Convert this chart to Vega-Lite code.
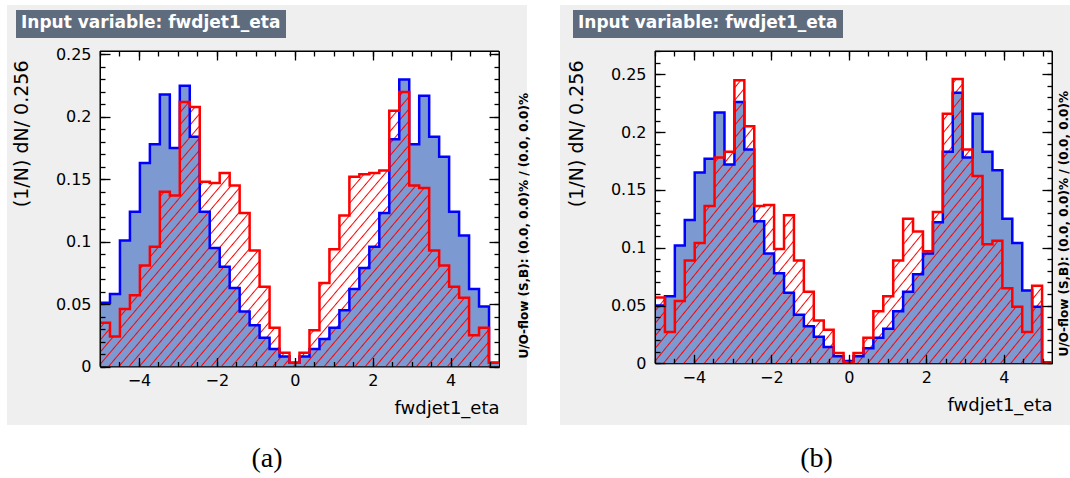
{
  "$schema": "https://vega.github.io/schema/vega-lite/v6.json",
  "background": "#ffffff",
  "padding": {"left": 7, "top": 5, "right": 0, "bottom": 0},
  "config": {
    "view": {"fill": "#efefef", "stroke": null},
    "font": "DejaVu Sans",
    "axis": {"grid": false, "domainColor": "#000000", "domainWidth": 1, "tickColor": "#000000", "tickWidth": 1.3, "labelColor": "#000000", "titleColor": "#000000", "labelFont": "DejaVu Sans", "titleFont": "DejaVu Sans", "titleFontWeight": "normal", "labelFlush": false, "labelOverlap": false},
    "legend": {"orient": "none", "titleColor": "#ffffff", "titleFont": "DejaVu Sans", "titleFontWeight": "bold", "titleFontSize": 17, "titleLimit": 600, "titlePadding": 0, "titleAnchor": "start", "titleBaseline": "top", "fillColor": "#5e6c7e", "strokeColor": null, "padding": 5, "symbolSize": 0, "symbolOpacity": 0, "symbolStrokeWidth": 0, "labelOffset": 0, "labelFontSize": 1, "labelOpacity": 0, "labelLimit": 1}
  },
  "datasets": {
    "eta_a": [
      {"lo": -5, "hi": -4.744, "s": 0.051, "b": 0.035},
      {"lo": -4.744, "hi": -4.488, "s": 0.058, "b": 0.024},
      {"lo": -4.488, "hi": -4.232, "s": 0.101, "b": 0.046},
      {"lo": -4.232, "hi": -3.976, "s": 0.124, "b": 0.057},
      {"lo": -3.976, "hi": -3.72, "s": 0.163, "b": 0.081},
      {"lo": -3.72, "hi": -3.464, "s": 0.178, "b": 0.096},
      {"lo": -3.464, "hi": -3.208, "s": 0.218, "b": 0.14},
      {"lo": -3.208, "hi": -2.952, "s": 0.175, "b": 0.137},
      {"lo": -2.952, "hi": -2.696, "s": 0.225, "b": 0.212},
      {"lo": -2.696, "hi": -2.44, "s": 0.184, "b": 0.208},
      {"lo": -2.44, "hi": -2.184, "s": 0.124, "b": 0.148},
      {"lo": -2.184, "hi": -1.928, "s": 0.095, "b": 0.147},
      {"lo": -1.928, "hi": -1.672, "s": 0.08, "b": 0.155},
      {"lo": -1.672, "hi": -1.416, "s": 0.063, "b": 0.145},
      {"lo": -1.416, "hi": -1.16, "s": 0.044, "b": 0.123},
      {"lo": -1.16, "hi": -0.904, "s": 0.033, "b": 0.093},
      {"lo": -0.904, "hi": -0.648, "s": 0.023, "b": 0.064},
      {"lo": -0.648, "hi": -0.392, "s": 0.014, "b": 0.031},
      {"lo": -0.392, "hi": -0.136, "s": 0.008, "b": 0.011},
      {"lo": -0.136, "hi": 0.12, "s": 0.003, "b": 0.003},
      {"lo": 0.12, "hi": 0.376, "s": 0.008, "b": 0.011},
      {"lo": 0.376, "hi": 0.632, "s": 0.014, "b": 0.029},
      {"lo": 0.632, "hi": 0.888, "s": 0.022, "b": 0.067},
      {"lo": 0.888, "hi": 1.144, "s": 0.031, "b": 0.094},
      {"lo": 1.144, "hi": 1.4, "s": 0.045, "b": 0.121},
      {"lo": 1.4, "hi": 1.656, "s": 0.062, "b": 0.152},
      {"lo": 1.656, "hi": 1.912, "s": 0.079, "b": 0.154},
      {"lo": 1.912, "hi": 2.168, "s": 0.096, "b": 0.155},
      {"lo": 2.168, "hi": 2.424, "s": 0.123, "b": 0.157},
      {"lo": 2.424, "hi": 2.68, "s": 0.182, "b": 0.205},
      {"lo": 2.68, "hi": 2.936, "s": 0.23, "b": 0.22},
      {"lo": 2.936, "hi": 3.192, "s": 0.178, "b": 0.145},
      {"lo": 3.192, "hi": 3.448, "s": 0.217, "b": 0.143},
      {"lo": 3.448, "hi": 3.704, "s": 0.184, "b": 0.093},
      {"lo": 3.704, "hi": 3.96, "s": 0.168, "b": 0.081},
      {"lo": 3.96, "hi": 4.216, "s": 0.124, "b": 0.064},
      {"lo": 4.216, "hi": 4.472, "s": 0.105, "b": 0.055},
      {"lo": 4.472, "hi": 4.728, "s": 0.062, "b": 0.025},
      {"lo": 4.728, "hi": 4.984, "s": 0.048, "b": 0.031},
      {"lo": 4.984, "hi": 5.24, "s": 0.003, "b": 0.003}
    ],
    "eta_b": [
      {"lo": -5, "hi": -4.744, "s": 0.05, "b": 0.057},
      {"lo": -4.744, "hi": -4.488, "s": 0.058, "b": 0.027},
      {"lo": -4.488, "hi": -4.232, "s": 0.102, "b": 0.054},
      {"lo": -4.232, "hi": -3.976, "s": 0.124, "b": 0.089},
      {"lo": -3.976, "hi": -3.72, "s": 0.165, "b": 0.104},
      {"lo": -3.72, "hi": -3.464, "s": 0.177, "b": 0.136},
      {"lo": -3.464, "hi": -3.208, "s": 0.217, "b": 0.178},
      {"lo": -3.208, "hi": -2.952, "s": 0.172, "b": 0.183},
      {"lo": -2.952, "hi": -2.696, "s": 0.226, "b": 0.245},
      {"lo": -2.696, "hi": -2.44, "s": 0.185, "b": 0.205},
      {"lo": -2.44, "hi": -2.184, "s": 0.123, "b": 0.136},
      {"lo": -2.184, "hi": -1.928, "s": 0.095, "b": 0.137},
      {"lo": -1.928, "hi": -1.672, "s": 0.078, "b": 0.099},
      {"lo": -1.672, "hi": -1.416, "s": 0.061, "b": 0.128},
      {"lo": -1.416, "hi": -1.16, "s": 0.042, "b": 0.089},
      {"lo": -1.16, "hi": -0.904, "s": 0.032, "b": 0.062},
      {"lo": -0.904, "hi": -0.648, "s": 0.023, "b": 0.037},
      {"lo": -0.648, "hi": -0.392, "s": 0.014, "b": 0.029},
      {"lo": -0.392, "hi": -0.136, "s": 0.006, "b": 0.009},
      {"lo": -0.136, "hi": 0.12, "s": 0.002, "b": 0.001},
      {"lo": 0.12, "hi": 0.376, "s": 0.006, "b": 0.009},
      {"lo": 0.376, "hi": 0.632, "s": 0.013, "b": 0.022},
      {"lo": 0.632, "hi": 0.888, "s": 0.022, "b": 0.045},
      {"lo": 0.888, "hi": 1.144, "s": 0.03, "b": 0.058},
      {"lo": 1.144, "hi": 1.4, "s": 0.045, "b": 0.089},
      {"lo": 1.4, "hi": 1.656, "s": 0.062, "b": 0.125},
      {"lo": 1.656, "hi": 1.912, "s": 0.077, "b": 0.114},
      {"lo": 1.912, "hi": 2.168, "s": 0.095, "b": 0.097},
      {"lo": 2.168, "hi": 2.424, "s": 0.122, "b": 0.131},
      {"lo": 2.424, "hi": 2.68, "s": 0.183, "b": 0.216},
      {"lo": 2.68, "hi": 2.936, "s": 0.234, "b": 0.246},
      {"lo": 2.936, "hi": 3.192, "s": 0.178, "b": 0.185},
      {"lo": 3.192, "hi": 3.448, "s": 0.216, "b": 0.162},
      {"lo": 3.448, "hi": 3.704, "s": 0.183, "b": 0.103},
      {"lo": 3.704, "hi": 3.96, "s": 0.167, "b": 0.106},
      {"lo": 3.96, "hi": 4.216, "s": 0.125, "b": 0.065},
      {"lo": 4.216, "hi": 4.472, "s": 0.104, "b": 0.049},
      {"lo": 4.472, "hi": 4.728, "s": 0.063, "b": 0.027},
      {"lo": 4.728, "hi": 4.984, "s": 0.049, "b": 0.067},
      {"lo": 4.984, "hi": 5.24, "s": 0.001, "b": 0.001}
    ]
  },
  "spacing": 30,
  "resolve": {"scale": {"fill": "independent"}, "legend": {"fill": "independent"}},
  "hconcat": [
    {
      "width": 520,
      "height": 420,
      "title": {"text": "(a)", "orient": "bottom", "anchor": "middle", "font": "Liberation Serif", "fontSize": 28, "fontWeight": "normal", "color": "#000000", "offset": 20},
      "data": {"name": "eta_a"},
      "transform": [{"fold": ["lo", "hi"], "as": ["side", "edge"]}],
      "resolve": {"axis": {"x": "independent", "y": "independent"}},
      "layer": [
        {
          "data": {"values": [{}]},
          "mark": {"type": "rect", "stroke": "#000000", "strokeWidth": 1},
          "encoding": {
            "x": {"datum": -5, "type": "quantitative", "scale": {"domain": [-5, 5.24], "range": [93, 492], "nice": false, "zero": false},
              "axis": {"zindex": 1, "orient": "bottom", "offset": -58.5, "values": [-4, -2, 0, 2, 4], "format": "~g", "tickSize": -9, "labelFontSize": 16, "labelPadding": 15, "title": "fwdjet1_eta", "titleFontSize": 18, "titleAnchor": "end", "titlePadding": 11}},
            "x2": {"datum": 5.24},
            "y": {"datum": 0, "type": "quantitative", "scale": {"domain": [0, 0.2528], "range": [361.5, 46], "nice": false, "zero": false},
              "axis": {"zindex": 1, "orient": "left", "offset": -93, "values": [0, 0.05, 0.1, 0.15, 0.2, 0.25], "format": "~g", "tickSize": -10, "labelFontSize": 16, "labelPadding": 19, "title": "(1/N) dN/ 0.256", "titleFontSize": 19, "titleAnchor": "end", "titleY": 55, "titlePadding": 24}},
            "y2": {"datum": 0.2528},
            "fill": {"datum": "plot area", "type": "nominal", "scale": {"range": ["#ffffff"]},
              "legend": {"title": "Input variable: fwdjet1_eta", "legendX": 9, "legendY": 5}}
          }
        },
        {
          "mark": {"type": "area", "fill": "#7d99d1", "stroke": null},
          "encoding": {
            "x": {"field": "edge", "type": "quantitative", "scale": {"domain": [-5, 5.24], "range": [93, 492], "nice": false, "zero": false},
              "axis": {"zindex": 1, "orient": "bottom", "offset": -58.5, "values": [-5, -4.5, -4, -3.5, -3, -2.5, -2, -1.5, -1, -0.5, 0, 0.5, 1, 1.5, 2, 2.5, 3, 3.5, 4, 4.5, 5], "tickSize": -5, "labels": false, "domain": false, "title": null}},
            "y": {"field": "s", "type": "quantitative", "stack": null, "scale": {"domain": [0, 0.2528], "range": [361.5, 46], "nice": false, "zero": false},
              "axis": {"zindex": 1, "orient": "left", "offset": -93, "values": [0, 0.01, 0.02, 0.03, 0.04, 0.05, 0.06, 0.07, 0.08, 0.09, 0.1, 0.11, 0.12, 0.13, 0.14, 0.15, 0.16, 0.17, 0.18, 0.19, 0.2, 0.21, 0.22, 0.23, 0.24, 0.25], "tickSize": -5, "labels": false, "domain": false, "title": null}},
            "y2": {"datum": 0},
            "order": [{"field": "edge", "type": "quantitative"}, {"field": "side", "type": "nominal"}]
          }
        },
        {
          "mark": {"type": "area", "stroke": null, "fill": {"gradient": "linear", "x1": 0, "y1": 0, "x2": 1.2, "y2": 0.7, "stops": [
            {"offset": 0.006, "color": "#f000"}, {"offset": 0.008, "color": "#f00"}, {"offset": 0.01, "color": "#f000"},
            {"offset": 0.022, "color": "#f000"}, {"offset": 0.024, "color": "#f00"}, {"offset": 0.026, "color": "#f000"},
            {"offset": 0.038, "color": "#f000"}, {"offset": 0.04, "color": "#f00"}, {"offset": 0.042, "color": "#f000"},
            {"offset": 0.054, "color": "#f000"}, {"offset": 0.056, "color": "#f00"}, {"offset": 0.058, "color": "#f000"},
            {"offset": 0.07, "color": "#f000"}, {"offset": 0.072, "color": "#f00"}, {"offset": 0.074, "color": "#f000"},
            {"offset": 0.086, "color": "#f000"}, {"offset": 0.088, "color": "#f00"}, {"offset": 0.09, "color": "#f000"},
            {"offset": 0.102, "color": "#f000"}, {"offset": 0.104, "color": "#f00"}, {"offset": 0.106, "color": "#f000"},
            {"offset": 0.118, "color": "#f000"}, {"offset": 0.12, "color": "#f00"}, {"offset": 0.122, "color": "#f000"},
            {"offset": 0.134, "color": "#f000"}, {"offset": 0.136, "color": "#f00"}, {"offset": 0.138, "color": "#f000"},
            {"offset": 0.15, "color": "#f000"}, {"offset": 0.152, "color": "#f00"}, {"offset": 0.154, "color": "#f000"},
            {"offset": 0.166, "color": "#f000"}, {"offset": 0.168, "color": "#f00"}, {"offset": 0.17, "color": "#f000"},
            {"offset": 0.182, "color": "#f000"}, {"offset": 0.184, "color": "#f00"}, {"offset": 0.186, "color": "#f000"},
            {"offset": 0.198, "color": "#f000"}, {"offset": 0.2, "color": "#f00"}, {"offset": 0.202, "color": "#f000"},
            {"offset": 0.214, "color": "#f000"}, {"offset": 0.216, "color": "#f00"}, {"offset": 0.218, "color": "#f000"},
            {"offset": 0.23, "color": "#f000"}, {"offset": 0.232, "color": "#f00"}, {"offset": 0.234, "color": "#f000"},
            {"offset": 0.246, "color": "#f000"}, {"offset": 0.248, "color": "#f00"}, {"offset": 0.25, "color": "#f000"},
            {"offset": 0.262, "color": "#f000"}, {"offset": 0.264, "color": "#f00"}, {"offset": 0.266, "color": "#f000"},
            {"offset": 0.278, "color": "#f000"}, {"offset": 0.28, "color": "#f00"}, {"offset": 0.282, "color": "#f000"},
            {"offset": 0.294, "color": "#f000"}, {"offset": 0.296, "color": "#f00"}, {"offset": 0.298, "color": "#f000"},
            {"offset": 0.31, "color": "#f000"}, {"offset": 0.312, "color": "#f00"}, {"offset": 0.314, "color": "#f000"},
            {"offset": 0.326, "color": "#f000"}, {"offset": 0.328, "color": "#f00"}, {"offset": 0.33, "color": "#f000"},
            {"offset": 0.342, "color": "#f000"}, {"offset": 0.344, "color": "#f00"}, {"offset": 0.346, "color": "#f000"},
            {"offset": 0.358, "color": "#f000"}, {"offset": 0.36, "color": "#f00"}, {"offset": 0.362, "color": "#f000"},
            {"offset": 0.374, "color": "#f000"}, {"offset": 0.376, "color": "#f00"}, {"offset": 0.378, "color": "#f000"},
            {"offset": 0.39, "color": "#f000"}, {"offset": 0.392, "color": "#f00"}, {"offset": 0.394, "color": "#f000"},
            {"offset": 0.406, "color": "#f000"}, {"offset": 0.408, "color": "#f00"}, {"offset": 0.41, "color": "#f000"},
            {"offset": 0.422, "color": "#f000"}, {"offset": 0.424, "color": "#f00"}, {"offset": 0.426, "color": "#f000"},
            {"offset": 0.438, "color": "#f000"}, {"offset": 0.44, "color": "#f00"}, {"offset": 0.442, "color": "#f000"},
            {"offset": 0.454, "color": "#f000"}, {"offset": 0.456, "color": "#f00"}, {"offset": 0.458, "color": "#f000"},
            {"offset": 0.47, "color": "#f000"}, {"offset": 0.472, "color": "#f00"}, {"offset": 0.474, "color": "#f000"},
            {"offset": 0.486, "color": "#f000"}, {"offset": 0.488, "color": "#f00"}, {"offset": 0.49, "color": "#f000"},
            {"offset": 0.502, "color": "#f000"}, {"offset": 0.504, "color": "#f00"}, {"offset": 0.506, "color": "#f000"},
            {"offset": 0.518, "color": "#f000"}, {"offset": 0.52, "color": "#f00"}, {"offset": 0.522, "color": "#f000"},
            {"offset": 0.534, "color": "#f000"}, {"offset": 0.536, "color": "#f00"}, {"offset": 0.538, "color": "#f000"},
            {"offset": 0.55, "color": "#f000"}, {"offset": 0.552, "color": "#f00"}, {"offset": 0.554, "color": "#f000"},
            {"offset": 0.566, "color": "#f000"}, {"offset": 0.568, "color": "#f00"}, {"offset": 0.57, "color": "#f000"},
            {"offset": 0.582, "color": "#f000"}, {"offset": 0.584, "color": "#f00"}, {"offset": 0.586, "color": "#f000"},
            {"offset": 0.598, "color": "#f000"}, {"offset": 0.6, "color": "#f00"}, {"offset": 0.602, "color": "#f000"},
            {"offset": 0.614, "color": "#f000"}, {"offset": 0.616, "color": "#f00"}, {"offset": 0.618, "color": "#f000"},
            {"offset": 0.63, "color": "#f000"}, {"offset": 0.632, "color": "#f00"}, {"offset": 0.634, "color": "#f000"},
            {"offset": 0.646, "color": "#f000"}, {"offset": 0.648, "color": "#f00"}, {"offset": 0.65, "color": "#f000"},
            {"offset": 0.662, "color": "#f000"}, {"offset": 0.664, "color": "#f00"}, {"offset": 0.666, "color": "#f000"},
            {"offset": 0.678, "color": "#f000"}, {"offset": 0.68, "color": "#f00"}, {"offset": 0.682, "color": "#f000"},
            {"offset": 0.694, "color": "#f000"}, {"offset": 0.696, "color": "#f00"}, {"offset": 0.698, "color": "#f000"},
            {"offset": 0.71, "color": "#f000"}, {"offset": 0.712, "color": "#f00"}, {"offset": 0.714, "color": "#f000"},
            {"offset": 0.726, "color": "#f000"}, {"offset": 0.728, "color": "#f00"}, {"offset": 0.73, "color": "#f000"},
            {"offset": 0.742, "color": "#f000"}, {"offset": 0.744, "color": "#f00"}, {"offset": 0.746, "color": "#f000"},
            {"offset": 0.758, "color": "#f000"}, {"offset": 0.76, "color": "#f00"}, {"offset": 0.762, "color": "#f000"},
            {"offset": 0.774, "color": "#f000"}, {"offset": 0.776, "color": "#f00"}, {"offset": 0.778, "color": "#f000"},
            {"offset": 0.79, "color": "#f000"}, {"offset": 0.792, "color": "#f00"}, {"offset": 0.794, "color": "#f000"},
            {"offset": 0.806, "color": "#f000"}, {"offset": 0.808, "color": "#f00"}, {"offset": 0.81, "color": "#f000"},
            {"offset": 0.822, "color": "#f000"}, {"offset": 0.824, "color": "#f00"}, {"offset": 0.826, "color": "#f000"},
            {"offset": 0.838, "color": "#f000"}, {"offset": 0.84, "color": "#f00"}, {"offset": 0.842, "color": "#f000"},
            {"offset": 0.854, "color": "#f000"}, {"offset": 0.856, "color": "#f00"}, {"offset": 0.858, "color": "#f000"},
            {"offset": 0.87, "color": "#f000"}, {"offset": 0.872, "color": "#f00"}, {"offset": 0.874, "color": "#f000"},
            {"offset": 0.886, "color": "#f000"}, {"offset": 0.888, "color": "#f00"}, {"offset": 0.89, "color": "#f000"},
            {"offset": 0.902, "color": "#f000"}, {"offset": 0.904, "color": "#f00"}, {"offset": 0.906, "color": "#f000"},
            {"offset": 0.918, "color": "#f000"}, {"offset": 0.92, "color": "#f00"}, {"offset": 0.922, "color": "#f000"},
            {"offset": 0.934, "color": "#f000"}, {"offset": 0.936, "color": "#f00"}, {"offset": 0.938, "color": "#f000"},
            {"offset": 0.95, "color": "#f000"}, {"offset": 0.952, "color": "#f00"}, {"offset": 0.954, "color": "#f000"},
            {"offset": 0.966, "color": "#f000"}, {"offset": 0.968, "color": "#f00"}, {"offset": 0.97, "color": "#f000"},
            {"offset": 0.982, "color": "#f000"}, {"offset": 0.984, "color": "#f00"}, {"offset": 0.986, "color": "#f000"}
          ]}},
          "encoding": {
            "x": {"field": "edge", "type": "quantitative", "scale": {"domain": [-5, 5.24], "range": [93, 492], "nice": false, "zero": false},
              "axis": {"zindex": 1, "orient": "top", "offset": -46, "values": [-4, -2, 0, 2, 4], "tickSize": -9, "labels": false, "title": null}},
            "y": {"field": "b", "type": "quantitative", "stack": null, "scale": {"domain": [0, 0.2528], "range": [361.5, 46], "nice": false, "zero": false},
              "axis": {"zindex": 1, "orient": "right", "offset": -28, "values": [0, 0.05, 0.1, 0.15, 0.2, 0.25], "tickSize": -10, "labels": false, "title": "U/O-flow (S,B): (0.0, 0.0)% / (0.0, 0.0)%", "titleFontSize": 12, "titleFontWeight": "bold", "titleAngle": 270, "titleAlign": "left", "titleBaseline": "top", "titleAnchor": "start", "titleY": 353, "titlePadding": 19}},
            "y2": {"datum": 0},
            "order": [{"field": "edge", "type": "quantitative"}, {"field": "side", "type": "nominal"}]
          }
        },
        {
          "mark": {"type": "line", "stroke": "#0000ff", "strokeWidth": 2.5, "strokeJoin": "miter"},
          "encoding": {
            "x": {"field": "edge", "type": "quantitative", "scale": {"domain": [-5, 5.24], "range": [93, 492], "nice": false, "zero": false},
              "axis": {"zindex": 1, "orient": "top", "offset": -46, "values": [-5, -4.5, -4, -3.5, -3, -2.5, -2, -1.5, -1, -0.5, 0, 0.5, 1, 1.5, 2, 2.5, 3, 3.5, 4, 4.5, 5], "tickSize": -5, "labels": false, "domain": false, "title": null}},
            "y": {"field": "s", "type": "quantitative", "scale": {"domain": [0, 0.2528], "range": [361.5, 46], "nice": false, "zero": false},
              "axis": {"zindex": 1, "orient": "right", "offset": -28, "values": [0, 0.01, 0.02, 0.03, 0.04, 0.05, 0.06, 0.07, 0.08, 0.09, 0.1, 0.11, 0.12, 0.13, 0.14, 0.15, 0.16, 0.17, 0.18, 0.19, 0.2, 0.21, 0.22, 0.23, 0.24, 0.25], "tickSize": -5, "labels": false, "domain": false, "title": null}},
            "order": [{"field": "edge", "type": "quantitative"}, {"field": "side", "type": "nominal"}]
          }
        },
        {
          "mark": {"type": "line", "stroke": "#ff0000", "strokeWidth": 2.5, "strokeJoin": "miter"},
          "encoding": {
            "x": {"field": "edge", "type": "quantitative", "scale": {"domain": [-5, 5.24], "range": [93, 492], "nice": false, "zero": false}, "axis": null},
            "y": {"field": "b", "type": "quantitative", "scale": {"domain": [0, 0.2528], "range": [361.5, 46], "nice": false, "zero": false}, "axis": null},
            "order": [{"field": "edge", "type": "quantitative"}, {"field": "side", "type": "nominal"}]
          }
        }
      ]
    },
    {
      "width": 513,
      "height": 420,
      "title": {"text": "(b)", "orient": "bottom", "anchor": "middle", "font": "Liberation Serif", "fontSize": 28, "fontWeight": "normal", "color": "#000000", "offset": 20},
      "data": {"name": "eta_b"},
      "transform": [{"fold": ["lo", "hi"], "as": ["side", "edge"]}],
      "resolve": {"axis": {"x": "independent", "y": "independent"}},
      "layer": [
        {
          "data": {"values": [{}]},
          "mark": {"type": "rect", "stroke": "#000000", "strokeWidth": 1},
          "encoding": {
            "x": {"datum": -5, "type": "quantitative", "scale": {"domain": [-5, 5.24], "range": [95, 492], "nice": false, "zero": false},
              "axis": {"zindex": 1, "orient": "bottom", "offset": -61.7, "values": [-4, -2, 0, 2, 4], "format": "~g", "tickSize": -9, "labelFontSize": 16, "labelPadding": 15, "title": "fwdjet1_eta", "titleFontSize": 18, "titleAnchor": "end", "titlePadding": 11}},
            "x2": {"datum": 5.24},
            "y": {"datum": 0, "type": "quantitative", "scale": {"domain": [0, 0.2702], "range": [358.3, 46], "nice": false, "zero": false},
              "axis": {"zindex": 1, "orient": "left", "offset": -95, "values": [0, 0.05, 0.1, 0.15, 0.2, 0.25], "format": "~g", "tickSize": -10, "labelFontSize": 16, "labelPadding": 19, "title": "(1/N) dN/ 0.256", "titleFontSize": 19, "titleAnchor": "end", "titleY": 55, "titlePadding": 24}},
            "y2": {"datum": 0.2702},
            "fill": {"datum": "plot area", "type": "nominal", "scale": {"range": ["#ffffff"]},
              "legend": {"title": "Input variable: fwdjet1_eta", "legendX": 13, "legendY": 5}}
          }
        },
        {
          "mark": {"type": "area", "fill": "#7d99d1", "stroke": null},
          "encoding": {
            "x": {"field": "edge", "type": "quantitative", "scale": {"domain": [-5, 5.24], "range": [95, 492], "nice": false, "zero": false},
              "axis": {"zindex": 1, "orient": "bottom", "offset": -61.7, "values": [-5, -4.5, -4, -3.5, -3, -2.5, -2, -1.5, -1, -0.5, 0, 0.5, 1, 1.5, 2, 2.5, 3, 3.5, 4, 4.5, 5], "tickSize": -5, "labels": false, "domain": false, "title": null}},
            "y": {"field": "s", "type": "quantitative", "stack": null, "scale": {"domain": [0, 0.2702], "range": [358.3, 46], "nice": false, "zero": false},
              "axis": {"zindex": 1, "orient": "left", "offset": -95, "values": [0, 0.01, 0.02, 0.03, 0.04, 0.05, 0.06, 0.07, 0.08, 0.09, 0.1, 0.11, 0.12, 0.13, 0.14, 0.15, 0.16, 0.17, 0.18, 0.19, 0.2, 0.21, 0.22, 0.23, 0.24, 0.25, 0.26, 0.27], "tickSize": -5, "labels": false, "domain": false, "title": null}},
            "y2": {"datum": 0},
            "order": [{"field": "edge", "type": "quantitative"}, {"field": "side", "type": "nominal"}]
          }
        },
        {
          "mark": {"type": "area", "stroke": null, "fill": {"gradient": "linear", "x1": 0, "y1": 0, "x2": 1.2, "y2": 0.7, "stops": [
            {"offset": 0.006, "color": "#f000"}, {"offset": 0.008, "color": "#f00"}, {"offset": 0.01, "color": "#f000"},
            {"offset": 0.022, "color": "#f000"}, {"offset": 0.024, "color": "#f00"}, {"offset": 0.026, "color": "#f000"},
            {"offset": 0.038, "color": "#f000"}, {"offset": 0.04, "color": "#f00"}, {"offset": 0.042, "color": "#f000"},
            {"offset": 0.054, "color": "#f000"}, {"offset": 0.056, "color": "#f00"}, {"offset": 0.058, "color": "#f000"},
            {"offset": 0.07, "color": "#f000"}, {"offset": 0.072, "color": "#f00"}, {"offset": 0.074, "color": "#f000"},
            {"offset": 0.086, "color": "#f000"}, {"offset": 0.088, "color": "#f00"}, {"offset": 0.09, "color": "#f000"},
            {"offset": 0.102, "color": "#f000"}, {"offset": 0.104, "color": "#f00"}, {"offset": 0.106, "color": "#f000"},
            {"offset": 0.118, "color": "#f000"}, {"offset": 0.12, "color": "#f00"}, {"offset": 0.122, "color": "#f000"},
            {"offset": 0.134, "color": "#f000"}, {"offset": 0.136, "color": "#f00"}, {"offset": 0.138, "color": "#f000"},
            {"offset": 0.15, "color": "#f000"}, {"offset": 0.152, "color": "#f00"}, {"offset": 0.154, "color": "#f000"},
            {"offset": 0.166, "color": "#f000"}, {"offset": 0.168, "color": "#f00"}, {"offset": 0.17, "color": "#f000"},
            {"offset": 0.182, "color": "#f000"}, {"offset": 0.184, "color": "#f00"}, {"offset": 0.186, "color": "#f000"},
            {"offset": 0.198, "color": "#f000"}, {"offset": 0.2, "color": "#f00"}, {"offset": 0.202, "color": "#f000"},
            {"offset": 0.214, "color": "#f000"}, {"offset": 0.216, "color": "#f00"}, {"offset": 0.218, "color": "#f000"},
            {"offset": 0.23, "color": "#f000"}, {"offset": 0.232, "color": "#f00"}, {"offset": 0.234, "color": "#f000"},
            {"offset": 0.246, "color": "#f000"}, {"offset": 0.248, "color": "#f00"}, {"offset": 0.25, "color": "#f000"},
            {"offset": 0.262, "color": "#f000"}, {"offset": 0.264, "color": "#f00"}, {"offset": 0.266, "color": "#f000"},
            {"offset": 0.278, "color": "#f000"}, {"offset": 0.28, "color": "#f00"}, {"offset": 0.282, "color": "#f000"},
            {"offset": 0.294, "color": "#f000"}, {"offset": 0.296, "color": "#f00"}, {"offset": 0.298, "color": "#f000"},
            {"offset": 0.31, "color": "#f000"}, {"offset": 0.312, "color": "#f00"}, {"offset": 0.314, "color": "#f000"},
            {"offset": 0.326, "color": "#f000"}, {"offset": 0.328, "color": "#f00"}, {"offset": 0.33, "color": "#f000"},
            {"offset": 0.342, "color": "#f000"}, {"offset": 0.344, "color": "#f00"}, {"offset": 0.346, "color": "#f000"},
            {"offset": 0.358, "color": "#f000"}, {"offset": 0.36, "color": "#f00"}, {"offset": 0.362, "color": "#f000"},
            {"offset": 0.374, "color": "#f000"}, {"offset": 0.376, "color": "#f00"}, {"offset": 0.378, "color": "#f000"},
            {"offset": 0.39, "color": "#f000"}, {"offset": 0.392, "color": "#f00"}, {"offset": 0.394, "color": "#f000"},
            {"offset": 0.406, "color": "#f000"}, {"offset": 0.408, "color": "#f00"}, {"offset": 0.41, "color": "#f000"},
            {"offset": 0.422, "color": "#f000"}, {"offset": 0.424, "color": "#f00"}, {"offset": 0.426, "color": "#f000"},
            {"offset": 0.438, "color": "#f000"}, {"offset": 0.44, "color": "#f00"}, {"offset": 0.442, "color": "#f000"},
            {"offset": 0.454, "color": "#f000"}, {"offset": 0.456, "color": "#f00"}, {"offset": 0.458, "color": "#f000"},
            {"offset": 0.47, "color": "#f000"}, {"offset": 0.472, "color": "#f00"}, {"offset": 0.474, "color": "#f000"},
            {"offset": 0.486, "color": "#f000"}, {"offset": 0.488, "color": "#f00"}, {"offset": 0.49, "color": "#f000"},
            {"offset": 0.502, "color": "#f000"}, {"offset": 0.504, "color": "#f00"}, {"offset": 0.506, "color": "#f000"},
            {"offset": 0.518, "color": "#f000"}, {"offset": 0.52, "color": "#f00"}, {"offset": 0.522, "color": "#f000"},
            {"offset": 0.534, "color": "#f000"}, {"offset": 0.536, "color": "#f00"}, {"offset": 0.538, "color": "#f000"},
            {"offset": 0.55, "color": "#f000"}, {"offset": 0.552, "color": "#f00"}, {"offset": 0.554, "color": "#f000"},
            {"offset": 0.566, "color": "#f000"}, {"offset": 0.568, "color": "#f00"}, {"offset": 0.57, "color": "#f000"},
            {"offset": 0.582, "color": "#f000"}, {"offset": 0.584, "color": "#f00"}, {"offset": 0.586, "color": "#f000"},
            {"offset": 0.598, "color": "#f000"}, {"offset": 0.6, "color": "#f00"}, {"offset": 0.602, "color": "#f000"},
            {"offset": 0.614, "color": "#f000"}, {"offset": 0.616, "color": "#f00"}, {"offset": 0.618, "color": "#f000"},
            {"offset": 0.63, "color": "#f000"}, {"offset": 0.632, "color": "#f00"}, {"offset": 0.634, "color": "#f000"},
            {"offset": 0.646, "color": "#f000"}, {"offset": 0.648, "color": "#f00"}, {"offset": 0.65, "color": "#f000"},
            {"offset": 0.662, "color": "#f000"}, {"offset": 0.664, "color": "#f00"}, {"offset": 0.666, "color": "#f000"},
            {"offset": 0.678, "color": "#f000"}, {"offset": 0.68, "color": "#f00"}, {"offset": 0.682, "color": "#f000"},
            {"offset": 0.694, "color": "#f000"}, {"offset": 0.696, "color": "#f00"}, {"offset": 0.698, "color": "#f000"},
            {"offset": 0.71, "color": "#f000"}, {"offset": 0.712, "color": "#f00"}, {"offset": 0.714, "color": "#f000"},
            {"offset": 0.726, "color": "#f000"}, {"offset": 0.728, "color": "#f00"}, {"offset": 0.73, "color": "#f000"},
            {"offset": 0.742, "color": "#f000"}, {"offset": 0.744, "color": "#f00"}, {"offset": 0.746, "color": "#f000"},
            {"offset": 0.758, "color": "#f000"}, {"offset": 0.76, "color": "#f00"}, {"offset": 0.762, "color": "#f000"},
            {"offset": 0.774, "color": "#f000"}, {"offset": 0.776, "color": "#f00"}, {"offset": 0.778, "color": "#f000"},
            {"offset": 0.79, "color": "#f000"}, {"offset": 0.792, "color": "#f00"}, {"offset": 0.794, "color": "#f000"},
            {"offset": 0.806, "color": "#f000"}, {"offset": 0.808, "color": "#f00"}, {"offset": 0.81, "color": "#f000"},
            {"offset": 0.822, "color": "#f000"}, {"offset": 0.824, "color": "#f00"}, {"offset": 0.826, "color": "#f000"},
            {"offset": 0.838, "color": "#f000"}, {"offset": 0.84, "color": "#f00"}, {"offset": 0.842, "color": "#f000"},
            {"offset": 0.854, "color": "#f000"}, {"offset": 0.856, "color": "#f00"}, {"offset": 0.858, "color": "#f000"},
            {"offset": 0.87, "color": "#f000"}, {"offset": 0.872, "color": "#f00"}, {"offset": 0.874, "color": "#f000"},
            {"offset": 0.886, "color": "#f000"}, {"offset": 0.888, "color": "#f00"}, {"offset": 0.89, "color": "#f000"},
            {"offset": 0.902, "color": "#f000"}, {"offset": 0.904, "color": "#f00"}, {"offset": 0.906, "color": "#f000"},
            {"offset": 0.918, "color": "#f000"}, {"offset": 0.92, "color": "#f00"}, {"offset": 0.922, "color": "#f000"},
            {"offset": 0.934, "color": "#f000"}, {"offset": 0.936, "color": "#f00"}, {"offset": 0.938, "color": "#f000"},
            {"offset": 0.95, "color": "#f000"}, {"offset": 0.952, "color": "#f00"}, {"offset": 0.954, "color": "#f000"},
            {"offset": 0.966, "color": "#f000"}, {"offset": 0.968, "color": "#f00"}, {"offset": 0.97, "color": "#f000"},
            {"offset": 0.982, "color": "#f000"}, {"offset": 0.984, "color": "#f00"}, {"offset": 0.986, "color": "#f000"}
          ]}},
          "encoding": {
            "x": {"field": "edge", "type": "quantitative", "scale": {"domain": [-5, 5.24], "range": [95, 492], "nice": false, "zero": false},
              "axis": {"zindex": 1, "orient": "top", "offset": -46, "values": [-4, -2, 0, 2, 4], "tickSize": -9, "labels": false, "title": null}},
            "y": {"field": "b", "type": "quantitative", "stack": null, "scale": {"domain": [0, 0.2702], "range": [358.3, 46], "nice": false, "zero": false},
              "axis": {"zindex": 1, "orient": "right", "offset": -21, "values": [0, 0.05, 0.1, 0.15, 0.2, 0.25], "tickSize": -10, "labels": false, "title": "U/O-flow (S,B): (0.0, 0.0)% / (0.0, 0.0)%", "titleFontSize": 12, "titleFontWeight": "bold", "titleAngle": 270, "titleAlign": "left", "titleBaseline": "top", "titleAnchor": "start", "titleY": 351, "titlePadding": 6}},
            "y2": {"datum": 0},
            "order": [{"field": "edge", "type": "quantitative"}, {"field": "side", "type": "nominal"}]
          }
        },
        {
          "mark": {"type": "line", "stroke": "#0000ff", "strokeWidth": 2.5, "strokeJoin": "miter"},
          "encoding": {
            "x": {"field": "edge", "type": "quantitative", "scale": {"domain": [-5, 5.24], "range": [95, 492], "nice": false, "zero": false},
              "axis": {"zindex": 1, "orient": "top", "offset": -46, "values": [-5, -4.5, -4, -3.5, -3, -2.5, -2, -1.5, -1, -0.5, 0, 0.5, 1, 1.5, 2, 2.5, 3, 3.5, 4, 4.5, 5], "tickSize": -5, "labels": false, "domain": false, "title": null}},
            "y": {"field": "s", "type": "quantitative", "scale": {"domain": [0, 0.2702], "range": [358.3, 46], "nice": false, "zero": false},
              "axis": {"zindex": 1, "orient": "right", "offset": -21, "values": [0, 0.01, 0.02, 0.03, 0.04, 0.05, 0.06, 0.07, 0.08, 0.09, 0.1, 0.11, 0.12, 0.13, 0.14, 0.15, 0.16, 0.17, 0.18, 0.19, 0.2, 0.21, 0.22, 0.23, 0.24, 0.25, 0.26, 0.27], "tickSize": -5, "labels": false, "domain": false, "title": null}},
            "order": [{"field": "edge", "type": "quantitative"}, {"field": "side", "type": "nominal"}]
          }
        },
        {
          "mark": {"type": "line", "stroke": "#ff0000", "strokeWidth": 2.5, "strokeJoin": "miter"},
          "encoding": {
            "x": {"field": "edge", "type": "quantitative", "scale": {"domain": [-5, 5.24], "range": [95, 492], "nice": false, "zero": false}, "axis": null},
            "y": {"field": "b", "type": "quantitative", "scale": {"domain": [0, 0.2702], "range": [358.3, 46], "nice": false, "zero": false}, "axis": null},
            "order": [{"field": "edge", "type": "quantitative"}, {"field": "side", "type": "nominal"}]
          }
        }
      ]
    }
  ]
}
